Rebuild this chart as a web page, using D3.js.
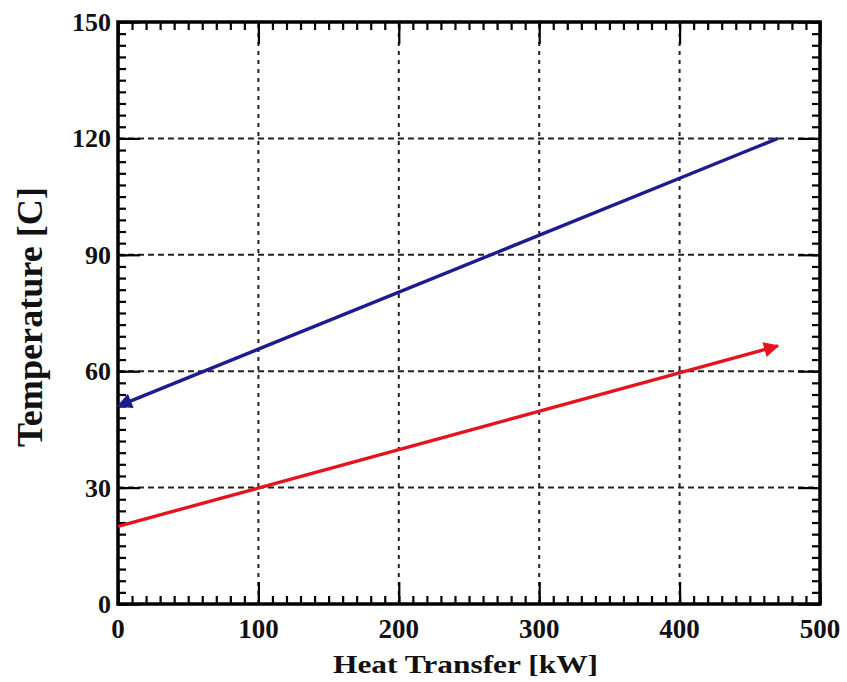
<!DOCTYPE html>
<html><head><meta charset="utf-8">
<script src="https://cdn.jsdelivr.net/npm/d3@7"></script>
<style>body{margin:0;background:#fff}svg{display:block}</style>
</head><body>
<script>
const heatTransfer = [0, 470];
const hotTemp = [51, 120];
const coldTemp = [20, 66.5];
const xTicks = [0, 100, 200, 300, 400, 500];
const yTicks = [0, 30, 60, 90, 120, 150];

const W = 847, H = 682;
const m = {l: 118, r: 27, t: 22, b: 78};
const svg = d3.select("body").append("svg").attr("width", W).attr("height", H);
const x = d3.scaleLinear().domain([0, 500]).range([m.l, W - m.r]);
const y = d3.scaleLinear().domain([0, 150]).range([H - m.b, m.t]);
const font = "'Liberation Serif', 'Times New Roman', serif";

const defs = svg.append("defs");
function marker(id, color) {
  defs.append("marker").attr("id", id).attr("viewBox", "0 0 10 10")
    .attr("refX", 9).attr("refY", 5).attr("markerWidth", 5.5).attr("markerHeight", 4.5)
    .attr("markerUnits", "strokeWidth").attr("orient", "auto-start-reverse")
    .append("path").attr("d", "M0,0 L10,5 L0,10 Z").attr("fill", color);
}
marker("arrBlue", "#1c1c8e");
marker("arrRed", "#e3141e");

// grid
const g = svg.append("g");
xTicks.slice(1, -1).forEach(v => {
  g.append("line").attr("x1", x(v)).attr("x2", x(v)).attr("y1", y(0)).attr("y2", y(150))
    .attr("stroke", "#222").attr("stroke-width", 2).attr("stroke-dasharray", "4,5");
});
yTicks.slice(1, -1).forEach(v => {
  g.append("line").attr("x1", x(0)).attr("x2", x(500)).attr("y1", y(v)).attr("y2", y(v))
    .attr("stroke", "#222").attr("stroke-width", 2).attr("stroke-dasharray", "6,4");
});

// axes with inward ticks on all four sides
const xMinor = d3.range(0, 501, 10);
const yMinor = d3.range(0, 151, 3);
function drawAxes(xv, yv, len) {
  const list = [
    [d3.axisBottom(x).tickValues(xv), `translate(0,${y(0)})`],
    [d3.axisTop(x).tickValues(xv), `translate(0,${y(150)})`],
    [d3.axisLeft(y).tickValues(yv), `translate(${x(0)},0)`],
    [d3.axisRight(y).tickValues(yv), `translate(${x(500)},0)`]
  ];
  list.forEach(([a, t]) => {
    const gg = svg.append("g").attr("transform", t).call(a.tickSize(-len).tickFormat(""));
    gg.select(".domain").remove();
    gg.selectAll("line").attr("stroke", "#000").attr("stroke-width", 2.2);
  });
}
drawAxes(xMinor, yMinor, 8);
drawAxes(xTicks, yTicks, 22);

// border
svg.append("rect").attr("x", x(0)).attr("y", y(150)).attr("width", x(500) - x(0)).attr("height", y(0) - y(150))
  .attr("fill", "none").attr("stroke", "#000").attr("stroke-width", 3.5);

// tick labels
svg.append("g").selectAll("text").data(xTicks).join("text")
  .attr("x", d => x(d)).attr("y", y(0) + 34).attr("text-anchor", "middle")
  .attr("font-family", font).attr("font-weight", "bold").attr("font-size", 27).attr("fill", "#111")
  .text(d => d);
svg.append("g").selectAll("text").data(yTicks).join("text")
  .attr("x", x(0) - 7).attr("y", d => y(d) + 9).attr("text-anchor", "end")
  .attr("font-family", font).attr("font-weight", "bold").attr("font-size", 26).attr("fill", "#111")
  .text(d => d);

// axis titles
svg.append("text").attr("x", 465.5).attr("y", 673).attr("text-anchor", "middle")
  .attr("font-family", font).attr("font-weight", "bold").attr("font-size", 26).attr("fill", "#111")
  .attr("textLength", 265).attr("lengthAdjust", "spacingAndGlyphs")
  .text("Heat Transfer [kW]");
svg.append("text").attr("transform", `translate(42,317) rotate(-90)`)
  .attr("text-anchor", "middle")
  .attr("font-family", font).attr("font-weight", "bold").attr("font-size", 36).attr("fill", "#111")
  .attr("textLength", 260).attr("lengthAdjust", "spacingAndGlyphs")
  .text("Temperature [C]");

// lines
const line = d3.line().x(d => x(d[0])).y(d => y(d[1]));
const hotPts = heatTransfer.map((v, i) => [v, hotTemp[i]]).reverse();
const coldPts = heatTransfer.map((v, i) => [v, coldTemp[i]]);
svg.append("path").attr("d", line(hotPts)).attr("fill", "none").attr("stroke", "#1c1c8e")
  .attr("stroke-width", 3.4).attr("marker-end", "url(#arrBlue)");
svg.append("path").attr("d", line(coldPts)).attr("fill", "none").attr("stroke", "#e3141e")
  .attr("stroke-width", 3.4).attr("marker-end", "url(#arrRed)");
</script>
</body></html>
